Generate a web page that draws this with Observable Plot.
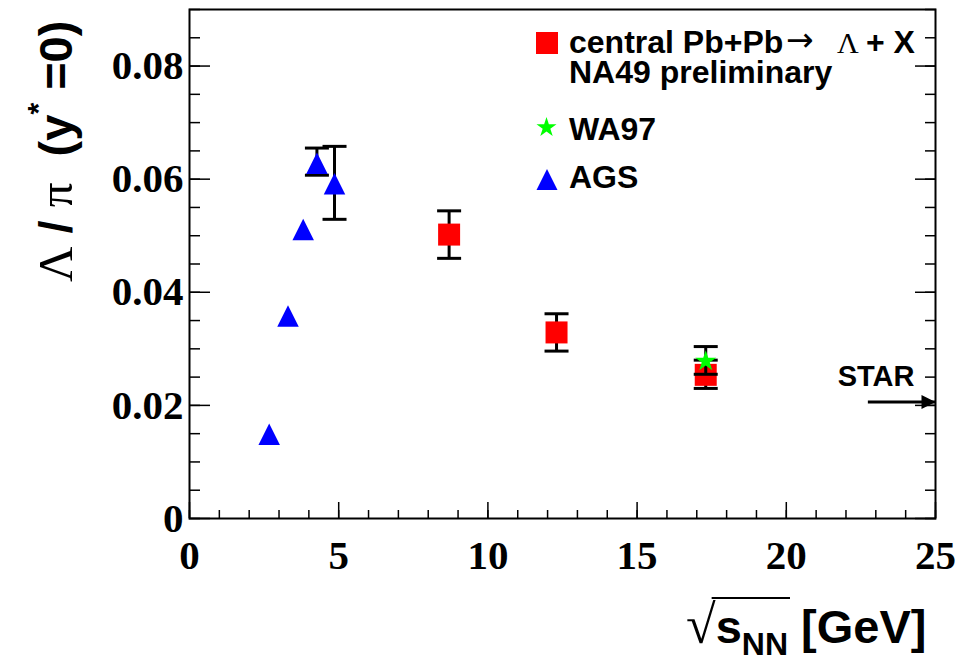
<!DOCTYPE html>
<html>
<head>
<meta charset="utf-8">
<script src="https://cdn.jsdelivr.net/npm/d3@7"></script>
<script src="https://cdn.jsdelivr.net/npm/@observablehq/plot@0.6"></script>
<style>
  html, body { margin: 0; padding: 0; background: #fff; }
  svg text { white-space: pre; }
</style>
</head>
<body>
<div id="chart"></div>
<script>
// Lambda/pi ratio at midrapidity vs. collision energy

// NA49 central Pb+Pb (preliminary)
const na49X  = [8.7, 12.3, 17.3];
const na49Y  = [0.0502, 0.0329, 0.0254];
const na49Lo = [0.0460, 0.0296, 0.0230];
const na49Hi = [0.0544, 0.0362, 0.0280];

// WA97
const wa97X  = [17.3];
const wa97Y  = [0.0278];
const wa97Lo = [0.0255];
const wa97Hi = [0.0304];

// AGS
const agsX  = [2.67, 3.3, 3.81, 4.27, 4.86];
const agsY  = [0.0149, 0.0358, 0.0511, 0.0628, 0.0592];
const agsLo = [null, null, null, 0.0607, 0.0529];
const agsHi = [null, null, null, 0.0655, 0.0658];

// STAR value indicated by an arrow at the right edge
const starArrowX = [22.75, 25];
const starArrowY = 0.0206;

// Axis ticks
const xMajor = [0, 5, 10, 15, 20, 25];
const xMinor = d3.range(0, 26, 1);
const yMajor = [0, 0.02, 0.04, 0.06, 0.08];
const yMinor = d3.range(0, 0.0901, 0.005);

const table = (xs, ys, lo, hi) => xs.map((x, i) => ({x, y: ys[i], lo: lo[i], hi: hi[i]}));
const na49 = table(na49X, na49Y, na49Lo, na49Hi);
const wa97 = table(wa97X, wa97Y, wa97Lo, wa97Hi);
const ags = table(agsX, agsY, agsLo, agsHi);
const agsErr = ags.filter(d => d.lo != null);

// Custom marker shapes
const triangleUp = {draw(ctx, size) {
  const s = Math.sqrt(size);
  ctx.moveTo(0, -s / 2); ctx.lineTo(s / 2, s / 2); ctx.lineTo(-s / 2, s / 2); ctx.closePath();
}};
const capLine = {draw(ctx, size) {
  const s = Math.sqrt(size);
  ctx.moveTo(-s / 2, 0); ctx.lineTo(s / 2, 0);
}};
const arrowHead = {draw(ctx, size) {
  const s = Math.sqrt(size);
  ctx.moveTo(0, 0); ctx.lineTo(-s, -s / 2); ctx.lineTo(-s, s / 2); ctx.closePath();
}};
const rOf = side => side / Math.sqrt(Math.PI);

const errorBars = data => [
  Plot.ruleX(data, {x: "x", y1: "lo", y2: "hi", stroke: "black", strokeWidth: 3}),
  Plot.dot(data, {x: "x", y: "lo", symbol: capLine, r: rOf(24), stroke: "black", strokeWidth: 3, fill: "none"}),
  Plot.dot(data, {x: "x", y: "hi", symbol: capLine, r: rOf(24), stroke: "black", strokeWidth: 3, fill: "none"})
];

const tickFont = {fontFamily: "Liberation Serif", fontWeight: "bold", fontSize: 41};

const chart = Plot.plot({
  width: 959,
  height: 661,
  marginLeft: 189,
  marginRight: 24,
  marginTop: 9,
  marginBottom: 143,
  style: {background: "white", color: "black", overflow: "visible"},
  x: {domain: [0, 25]},
  y: {domain: [0, 0.09]},
  marks: [
    // ticks pointing into the frame
    Plot.axisX({ticks: xMinor, tickSize: -8, text: null, label: null, strokeWidth: 1.5}),
    Plot.axisX({ticks: xMajor, tickSize: -16, text: null, label: null, strokeWidth: 1.5}),
    Plot.axisX({ticks: xMajor, tickSize: 0, tickPadding: 21, label: null, tickFormat: d => String(d), ...tickFont}),
    Plot.axisY({ticks: yMinor, tickSize: -11, text: null, label: null, strokeWidth: 1.5}),
    Plot.axisY({ticks: yMajor, tickSize: -21, text: null, label: null, strokeWidth: 1.5}),
    Plot.axisY({anchor: "right", ticks: yMinor, tickSize: -11, text: null, label: null, strokeWidth: 1.5}),
    Plot.axisY({anchor: "right", ticks: yMajor, tickSize: -21, text: null, label: null, strokeWidth: 1.5}),
    Plot.axisY({ticks: yMajor, tickSize: 0, tickPadding: 6, label: null,
      tickFormat: d => d === 0 ? "0" : d.toFixed(2), ...tickFont}),
    Plot.frame({stroke: "black", strokeWidth: 2}),

    // AGS
    ...errorBars(agsErr),
    Plot.dot(ags, {x: "x", y: "y", symbol: triangleUp, r: rOf(21.5), fill: "#0000ff", stroke: "none"}),

    // NA49
    ...errorBars(na49),
    Plot.dot(na49, {x: "x", y: "y", symbol: "square", r: rOf(22), fill: "#ff0000", stroke: "none"}),

    // WA97
    ...errorBars(wa97),
    Plot.dot(wa97, {x: "x", y: "y", symbol: "star", r: 6.6, fill: "#00ff00", stroke: "none"}),

    // STAR arrow
    Plot.ruleY([starArrowY], {x1: starArrowX[0], x2: starArrowX[1], stroke: "black", strokeWidth: 3}),
    Plot.dot([starArrowY], {x: starArrowX[1], y: d => d, symbol: arrowHead, r: rOf(14), fill: "black", stroke: "none"}),
    Plot.text(["STAR"], {x: starArrowX[1], y: starArrowY, text: d => d, textAnchor: "end",
      dx: -21, dy: -25, fontFamily: "Liberation Sans", fontWeight: "bold", fontSize: 29, fill: "black"}),

    // legend markers
    Plot.dot([0], {frameAnchor: "top-left", dx: 357.5, dy: 33.5, symbol: "square", r: rOf(22), fill: "#ff0000", stroke: "none"}),
    Plot.dot([0], {frameAnchor: "top-left", dx: 357, dy: 118, symbol: "star", r: 6.3, fill: "#00ff00", stroke: "none"}),
    Plot.dot([0], {frameAnchor: "top-left", dx: 357.5, dy: 170, symbol: triangleUp, r: rOf(21), fill: "#0000ff", stroke: "none"})
  ]
});

document.getElementById("chart").appendChild(chart);

const svg = d3.select(chart);
const sans = "Liberation Sans";
const serif = "Liberation Serif";
const addText = () => svg.append("text").attr("text-anchor", "start").attr("fill", "black")
  .attr("font-family", sans).attr("font-weight", "bold");

// Legend text
const leg1 = addText().attr("x", 569).attr("y", 53).attr("font-size", 32);
leg1.append("tspan").text("central Pb+Pb");
leg1.append("tspan").attr("x", 786).attr("dy", -2).attr("font-family", "DejaVu Sans").attr("font-weight", "normal").attr("font-size", 33).text("→");
leg1.append("tspan").attr("x", 837).attr("dy", 2).attr("font-family", serif).attr("font-weight", "normal").attr("font-size", 30).text("Λ");
leg1.append("tspan").attr("x", 866).text("+ X");

const legendLine = (txt, y) => addText().attr("x", 569).attr("y", y).attr("font-size", 32).text(txt);
legendLine("NA49 preliminary", 83);
legendLine("WA97", 140);
legendLine("AGS", 188);

// Y axis title
const yt = addText().attr("transform", "translate(72,282) rotate(-90)").attr("font-size", 47);
yt.append("tspan").attr("font-family", serif).attr("font-weight", "normal").attr("font-size", 49).text("Λ");
yt.append("tspan").text(" / ");
yt.append("tspan").attr("font-family", serif).attr("font-weight", "normal").attr("font-size", 49).text("π");
yt.append("tspan").text("  (y");
yt.append("tspan").attr("font-size", 30).attr("dy", -24).text("*");
yt.append("tspan").attr("dy", 24).text(" =0)");

// X axis title: sqrt(s_NN) [GeV]
const xt = addText().attr("x", 686).attr("y", 643).attr("font-size", 47);
xt.append("tspan").attr("font-family", serif).attr("font-weight", "normal").attr("font-size", 54).text("√");
const sTs = xt.append("tspan").text("s");
const nnTs = xt.append("tspan").attr("font-size", 32).attr("dy", 12).text("NN");
xt.append("tspan").attr("dy", -12).text(" [GeV]");
const xtBox = xt.node().getBBox();
const startX = sTs.node().getStartPositionOfChar(0).x;
const endX = nnTs.node().getEndPositionOfChar(1).x;
svg.append("line").attr("x1", startX - 4).attr("x2", endX + 2)
  .attr("y1", xtBox.y + 3).attr("y2", xtBox.y + 3)
  .attr("stroke", "black").attr("stroke-width", 2);
</script>
</body>
</html>
